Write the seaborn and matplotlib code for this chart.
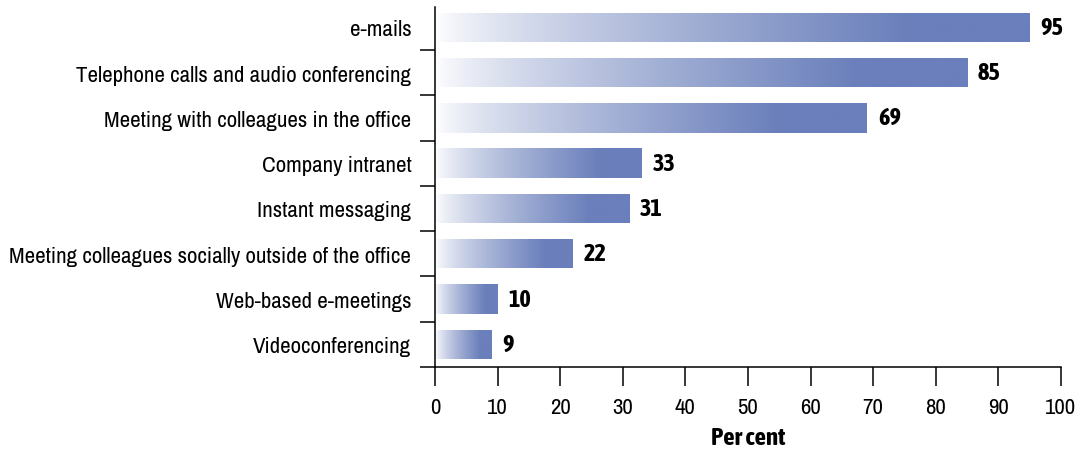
import matplotlib
matplotlib.use("Agg")
import matplotlib.pyplot as plt
import matplotlib.colors as mcolors
import numpy as np
import seaborn as sns

# Données
categories = [
    "e-mails",
    "Telephone calls and audio conferencing",
    "Meeting with colleagues in the office",
    "Company intranet",
    "Instant messaging",
    "Meeting colleagues socially outside of the office",
    "Web-based e-meetings",
    "Videoconferencing",
]
values = [95, 85, 69, 33, 31, 22, 10, 9]
x_ticks = [0, 10, 20, 30, 40, 50, 60, 70, 80, 90, 100]

BAR_COLOR = "#6a7fbb"
BOLD_FONT = ["Asap Condensed", "Barlow Semi Condensed", "DejaVu Sans"]

sns.set_style("ticks")
plt.rcParams["font.family"] = ["Archivo Narrow", "DejaVu Sans"]
plt.rcParams["font.size"] = 16.5
plt.rcParams["text.color"] = "black"
plt.rcParams["axes.labelcolor"] = "black"
plt.rcParams["xtick.color"] = "black"
plt.rcParams["ytick.color"] = "black"

fig = plt.figure(figsize=(10.9, 4.52), dpi=100)
ax = fig.add_axes([0.399, 0.186, 0.5743, 0.7965])

sns.barplot(x=values, y=categories, orient="h", width=0.65,
            color=BAR_COLOR, ax=ax, zorder=2)

# Dégradé blanc -> bleu sur chaque barre
cmap = mcolors.LinearSegmentedColormap.from_list("grad", ["#ffffff", BAR_COLOR])
for patch in ax.patches:
    x0, y0 = patch.get_x(), patch.get_y()
    w, h = patch.get_width(), patch.get_height()
    t = np.linspace(0, 1, 256)
    ramp = np.clip(t / 0.8, 0, 1) ** 0.75
    img = ax.imshow(ramp[np.newaxis, :], cmap=cmap, vmin=0, vmax=1,
                    extent=[x0, x0 + w, y0 + h, y0], aspect="auto",
                    interpolation="bilinear", zorder=2)
    img.set_clip_path(patch)
    patch.set_facecolor("none")
    patch.set_edgecolor("none")
    ax.annotate(f"{int(w)}", xy=(x0 + w, y0 + h / 2), xytext=(8, 0),
                textcoords="offset points", ha="left", va="center",
                fontsize=17.5, fontweight="bold", family=BOLD_FONT, color="black")

ax.set_xlim(0, 100)
ax.set_ylim(len(categories) - 0.5, -0.45)
ax.set_xticks(x_ticks)
ax.set_xticklabels([str(v) for v in x_ticks])
ax.set_xlabel("Per cent", fontsize=18, fontweight="bold", family=BOLD_FONT,
              labelpad=6)
ax.set_ylabel("")

# Ticks entre les catégories
ax.set_yticks(np.arange(len(categories)) + 0.5, minor=True)
ax.tick_params(axis="y", which="major", length=0, pad=17, labelsize=16.5)
ax.tick_params(axis="y", which="minor", length=11, width=1.1, color="black")
ax.tick_params(axis="x", which="major", length=14, width=1.1, pad=8,
               labelsize=16.5, color="black")

sns.despine(ax=ax, top=True, right=True)
for side in ["left", "bottom"]:
    ax.spines[side].set_linewidth(1.1)
    ax.spines[side].set_color("black")

fig.savefig("out.png", dpi=100)
